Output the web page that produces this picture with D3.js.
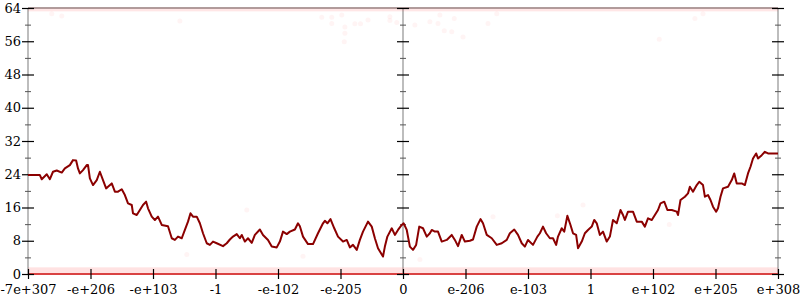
<!DOCTYPE html>
<html>
<head>
<meta charset="utf-8">
<script src="https://cdn.jsdelivr.net/npm/d3@7"></script>
<style>
  html, body { margin: 0; padding: 0; background: #fff; }
  svg { display: block; }
  text { font-family: "DejaVu Serif", serif; font-size: 13px; fill: #000; }
</style>
</head>
<body>
<svg id="chart" width="800" height="300"></svg>
<script>
// ---- data ----
const xTickLabels = ["-7e+307", "-e+206", "-e+103", "-1", "-e-102", "-e-205", "0",
                     "e-206", "e-103", "1", "e+102", "e+205", "e+308"];
const yMajorTicks = [0, 8, 16, 24, 32, 40, 48, 56, 64];
const yMinorTicks = [4, 12, 20, 28, 36, 44, 52, 60];

// position along the axis (in tick-label units) and value
const lineX = [-6.00,-5.81,-5.78,-5.70,-5.65,-5.60,-5.54,-5.46,-5.41,-5.33,-5.28,-5.23,-5.20,-5.17,-5.12,-5.06,-5.04,-5.01,-4.96,-4.90,-4.85,-4.80,-4.75,-4.72,-4.66,-4.61,-4.56,-4.50,-4.45,-4.40,-4.34,-4.32,-4.26,-4.21,-4.16,-4.11,-4.08,-4.02,-3.97,-3.92,-3.86,-3.76,-3.70,-3.65,-3.60,-3.54,-3.49,-3.44,-3.40,-3.36,-3.30,-3.25,-3.20,-3.14,-3.09,-3.04,
  -2.98,-2.88,-2.82,-2.77,-2.72,-2.66,-2.61,-2.58,-2.53,-2.48,-2.42,-2.37,-2.29,-2.24,-2.16,-2.10,-2.02,-1.97,-1.92,-1.86,-1.81,-1.73,-1.68,-1.65,-1.60,-1.52,-1.44,-1.36,-1.28,-1.25,-1.21,-1.16,-1.10,-1.04,-0.96,-0.90,-0.85,-0.80,-0.74,-0.69,-0.64,-0.56,-0.50,-0.45,-0.40,-0.32,-0.29,-0.25,-0.18,-0.13,-0.08,-0.02,
  0.01,0.06,0.11,0.16,0.21,0.26,0.32,0.38,0.43,0.46,0.51,0.56,0.62,0.70,0.78,0.83,0.88,0.94,0.99,1.07,1.12,1.18,1.24,1.28,1.34,1.42,1.50,1.58,1.66,1.71,1.78,1.84,1.90,1.95,2.00,2.08,2.15,2.19,2.24,2.29,2.35,2.40,2.45,2.48,2.54,2.58,2.63,2.68,2.72,2.77,2.80,2.86,2.91,2.96,3.02,3.06,
  3.10,3.15,3.20,3.26,3.31,3.36,3.42,3.48,3.52,3.55,3.60,3.68,3.74,3.82,3.87,3.92,3.98,4.03,4.08,4.12,4.18,4.23,4.30,4.38,4.40,4.44,4.51,4.56,4.59,4.64,4.70,4.74,4.80,4.83,4.88,4.92,4.96,5.01,5.04,5.08,5.12,5.20,5.26,5.30,5.34,5.42,5.47,5.52,5.56,5.60,5.65,5.68,5.74,5.79,5.84,6.00];
const lineY = [23.8,23.8,22.8,24.0,22.8,24.6,24.9,24.4,25.4,26.2,27.4,27.3,25.4,24.2,25.0,26.2,26.2,23.0,21.4,22.6,24.6,22.6,20.6,21.0,21.8,19.8,19.8,20.4,19.0,17.0,16.6,14.6,14.2,15.4,16.6,17.4,15.8,13.8,13.0,13.8,11.8,11.5,8.6,8.2,9.0,8.6,10.6,12.6,14.6,13.8,13.8,12.2,9.8,7.4,7.0,7.8,
  7.4,6.7,7.4,8.3,9.0,9.6,8.6,9.4,7.8,8.6,7.5,9.4,10.7,9.4,8.2,6.6,6.4,7.8,10.2,9.6,10.2,10.7,12.2,11.5,9.0,7.2,7.2,9.8,12.2,12.8,12.2,13.2,11.0,9.0,7.8,8.2,6.4,7.0,5.8,8.2,10.2,12.6,11.4,8.6,6.2,4.2,6.6,9.0,11.0,9.4,10.6,11.8,
  12.2,10.6,6.6,5.8,7.0,11.4,11.0,9.0,9.8,10.6,10.2,10.2,7.8,8.2,9.4,8.2,6.7,9.4,7.8,8.0,8.3,11.4,13.2,12.2,9.4,8.6,7.0,7.4,8.2,9.8,10.7,9.4,7.4,6.6,8.2,7.0,9.0,9.8,11.4,9.8,8.6,8.6,7.0,9.0,11.0,10.2,14.0,11.8,9.8,9.4,6.2,7.8,9.8,10.6,11.4,13.0,
  12.2,9.4,10.2,7.8,9.0,13.0,12.2,15.4,14.2,13.0,15.0,15.0,12.6,12.6,11.4,13.4,13.0,14.2,15.4,17.0,17.4,15.4,15.4,15.0,14.2,17.8,18.6,19.4,21.0,19.8,21.4,22.2,21.4,18.6,19.0,17.8,16.2,15.0,15.8,18.6,20.6,21.0,22.6,24.2,21.8,21.8,21.4,24.2,25.8,27.8,29.0,27.8,28.6,29.4,29.0,29.0];

// faint scattered samples
const dotX = [-1.30,-1.14,-1.14,-0.98,-0.93,-0.93,-0.94,-0.77,-0.68,-0.56,-0.21,-0.21,-0.10,0.19,0.43,0.56,0.59,0.66,0.78,0.82,0.96,1.36,1.50,-5.62,-5.46,-3.57,4.67,4.80,4.10,
              -2.50,0.27,1.44,2.88,2.47,4.26,-3.46,-1.60];
const dotY = [61.8,61.8,60.3,62.3,59.4,57.9,55.9,60.2,60.2,61.1,61.9,61.0,60.5,59.9,60.7,60.3,62.3,58.5,58.3,61.5,57.0,60.3,62.6,62.6,62.1,60.9,61.5,62.6,56.5,
              15.4,3.5,13.8,16.6,14.0,11.9,4.7,4.3];

// ---- chart ----
const svg = d3.select("#chart");
const x = d3.scaleLinear().domain([-6, 6]).range([28, 778]);
const y = d3.scaleLinear().domain([0, 64]).range([274, 8]);

// axis lines (gray)
const axisColor = "#bdbdbd";
[-6, 0, 6].forEach(u => {
  svg.append("line").attr("x1", x(u)).attr("x2", x(u)).attr("y1", y(64)).attr("y2", y(0))
    .attr("stroke", axisColor).attr("stroke-width", 2);
});
svg.append("line").attr("x1", x(-6)).attr("x2", x(6)).attr("y1", y(64)).attr("y2", y(64))
  .attr("stroke", "#a8a8a8").attr("stroke-width", 2);
svg.append("line").attr("x1", x(-6)).attr("x2", x(6)).attr("y1", y(0)).attr("y2", y(0))
  .attr("stroke", axisColor).attr("stroke-width", 2);

// dense sample bands near 0 and 64
svg.append("rect").attr("x", x(-6)).attr("width", x(6) - x(-6))
  .attr("y", y(1.6)).attr("height", y(-0.2) - y(1.6))
  .attr("fill", "#ff3030").attr("opacity", 0.14);
svg.append("line").attr("x1", x(-6)).attr("x2", x(6)).attr("y1", y(0)).attr("y2", y(0))
  .attr("stroke", "#e02020").attr("stroke-width", 2).attr("opacity", 0.75);
svg.append("rect").attr("x", x(-6)).attr("width", x(6) - x(-6))
  .attr("y", y(64.2)).attr("height", y(63.2) - y(64.2))
  .attr("fill", "#ff3030").attr("opacity", 0.12);

// faint scattered dots
svg.append("g").selectAll("circle").data(dotX).join("circle")
  .attr("cx", d => x(d)).attr("cy", (d, i) => y(dotY[i])).attr("r", 2.5)
  .attr("fill", "#ff4040").attr("opacity", 0.06);

// y ticks on the three vertical axes
function yTicks(u, labels) {
  const g = svg.append("g").attr("transform", `translate(${x(u)},0)`);
  g.call(d3.axisLeft(y).tickValues(yMajorTicks).tickSize(6).tickPadding(1)
    .tickFormat(labels ? d3.format("d") : ""));
  g.call(gg => gg.select(".domain").remove());
  const g2 = svg.append("g").attr("transform", `translate(${x(u)},0)`);
  g2.call(d3.axisRight(y).tickValues(yMajorTicks).tickSize(6).tickFormat(""));
  g2.call(gg => gg.select(".domain").remove());
  const g3 = svg.append("g").attr("transform", `translate(${x(u)},0)`);
  g3.call(d3.axisLeft(y).tickValues(yMinorTicks).tickSize(3).tickFormat(""));
  g3.call(gg => gg.select(".domain").remove());
  const g4 = svg.append("g").attr("transform", `translate(${x(u)},0)`);
  g4.call(d3.axisRight(y).tickValues(yMinorTicks).tickSize(3).tickFormat(""));
  g4.call(gg => gg.select(".domain").remove());
  [g, g2].forEach(k => k.selectAll(".tick line").attr("stroke", "#000").attr("stroke-width", 1.2));
  [g3, g4].forEach(k => k.selectAll(".tick line").attr("stroke", "#555").attr("stroke-width", 1));
  svg.selectAll("g").attr("font-family", null).attr("font-size", null);
}
yTicks(-6, true);
yTicks(0, false);
yTicks(6, false);

// x ticks
const xTickVals = d3.range(-6, 7);
const gx = svg.append("g").attr("transform", `translate(0,${y(0)})`)
  .call(d3.axisBottom(x).tickValues(xTickVals).tickSize(5).tickPadding(6)
    .tickFormat((d, i) => xTickLabels[i]));
gx.select(".domain").remove();
const gx2 = svg.append("g").attr("transform", `translate(0,${y(0)})`)
  .call(d3.axisTop(x).tickValues(xTickVals).tickSize(5).tickFormat(""));
gx2.select(".domain").remove();
[gx, gx2].forEach(k => k.selectAll(".tick line").attr("stroke", "#000").attr("stroke-width", 1.2));
svg.selectAll("g").attr("font-family", null).attr("font-size", null);

// main line
const pts = lineX.map((d, i) => [d, lineY[i]]);
svg.append("path").datum(pts)
  .attr("fill", "none").attr("stroke", "#8b0000").attr("stroke-width", 2)
  .attr("stroke-linejoin", "round")
  .attr("d", d3.line().x(d => x(d[0])).y(d => y(d[1])));
</script>
</body>
</html>
